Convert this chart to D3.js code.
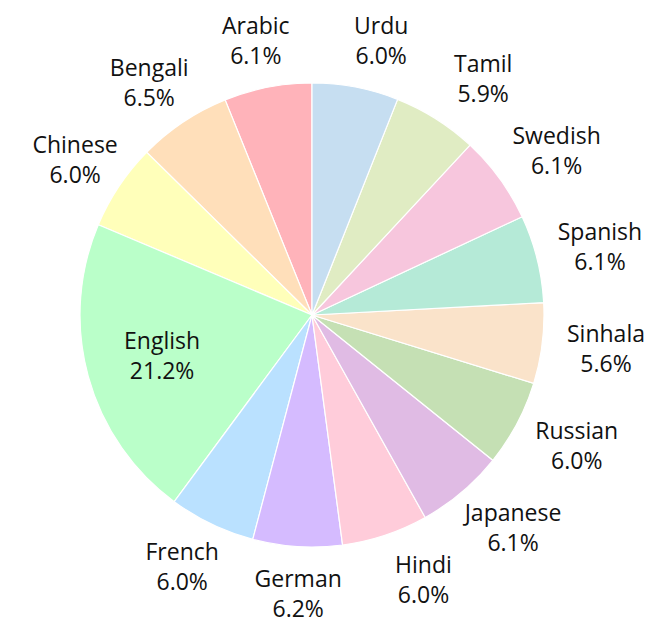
<!DOCTYPE html>
<html><head><meta charset="utf-8">
<script src="https://cdn.jsdelivr.net/npm/d3@7"></script>
<style>body{margin:0;background:#fff}</style>
</head><body>
<svg id="chart" width="664" height="632"></svg>
<script>
const languages = ["Arabic","Bengali","Chinese","English","French","German","Hindi","Japanese","Russian","Sinhala","Spanish","Swedish","Tamil","Urdu"];
const shares = [6.1,6.5,6.0,21.2,6.0,6.2,6.0,6.1,6.0,5.6,6.1,6.1,5.9,6.0];
const colors = ["#FFB3BA","#FFDFBA","#FFFFBA","#BAFFC9","#BAE1FF","#D5BBFF","#FFCCDA","#E0BBE4","#C5E0B4","#FAE3CA","#B5EAD7","#F7C6DD","#E0ECC3","#C6DEF1"];

const svg = d3.select("#chart");
const cx = 312, cy = 315, r = 232;
const fontSize = 23, lineGap = 30;
const g = svg.append("g").attr("transform", `translate(${cx},${cy})`);
const data = languages.map((l,i)=>({name:l, value:shares[i], color:colors[i]}));
const total = d3.sum(shares);
// counterclockwise from 12 o'clock
const pie = d3.pie().value(d=>d.value).sort(null).startAngle(0).endAngle(-2*Math.PI);
const arcs = pie(data);
const arc = d3.arc().innerRadius(0).outerRadius(r);
g.selectAll("path").data(arcs).join("path")
  .attr("d", arc).attr("fill", d=>d.data.color)
  .attr("stroke", "#fff").attr("stroke-width", 1.2);

const labels = g.selectAll("text.lbl").data(arcs).join("text")
  .attr("class","lbl")
  .attr("font-family","'Open Sans', sans-serif")
  .attr("font-size", fontSize)
  .attr("fill","#111")
  .attr("text-anchor","middle");
labels.append("tspan").attr("x",0).attr("y", -0.3*fontSize).text(d=>d.data.name);
labels.append("tspan").attr("x",0).attr("y", -0.3*fontSize + lineGap).text(d=>(d.value/total*100).toFixed(1)+"%");

labels.each(function(d){
  const a = (d.startAngle + d.endAngle)/2;
  const inside = d.data.name === "English";
  let x, y;
  if (inside) { x = Math.sin(a)*0.67*r; y = -Math.cos(a)*0.67*r; }
  else {
    x = Math.sin(a)*268 + Math.sign(Math.sin(a))*21*Math.min(1, Math.abs(Math.sin(a))*3) + 7;
    y = -Math.cos(a)*279;
  }
  d3.select(this).attr("transform", `translate(${x},${y})`);
});
</script>
</body></html>
